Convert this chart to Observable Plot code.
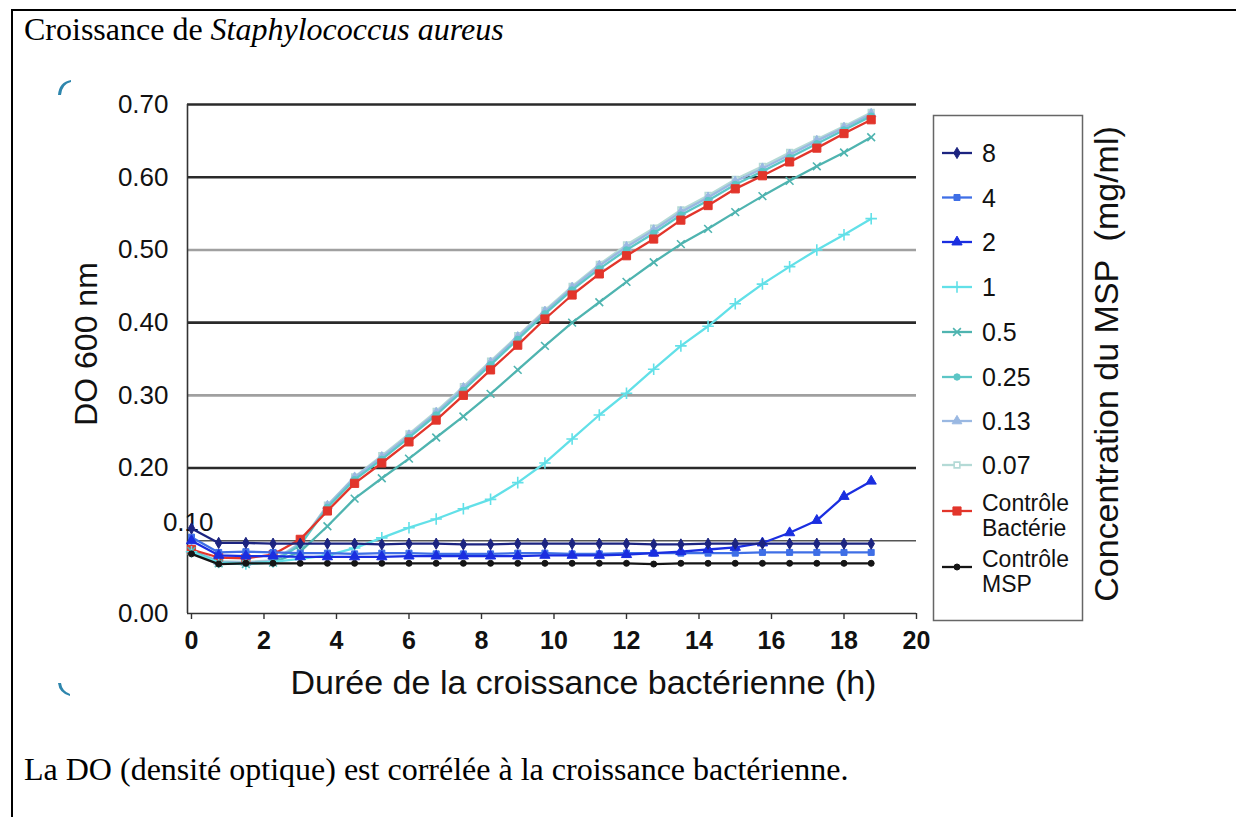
<!DOCTYPE html>
<html>
<head>
<meta charset="utf-8">
<script src="https://cdn.jsdelivr.net/npm/d3@7"></script>
<script src="https://cdn.jsdelivr.net/npm/@observablehq/plot@0.6"></script>
<style>
  html, body { margin: 0; padding: 0; background: #fff; }
  #page { position: relative; width: 1236px; height: 817px; overflow: hidden; background: #fff; }
  #page > * { position: absolute; }
  .serif { font-family: "Liberation Serif", "Times New Roman", serif; color: #000; white-space: nowrap; }
</style>
</head>
<body>
<div id="page">
  <div id="frameTop" style="left:12px; top:9px; width:1224px; height:2px; background:#000;"></div>
  <div id="frameLeft" style="left:11px; top:9px; width:2px; height:808px; background:#000;"></div>
  <div id="title" class="serif" style="left:24px; top:11px; font-size:32px;">Croissance de <i>Staphylococcus aureus</i></div>
  <div id="chart" style="left:0; top:0;"></div>
  <svg id="legend" width="1236" height="817" style="left:0; top:0; pointer-events:none;"></svg>
  <div id="caption" class="serif" style="left:24px; top:751px; font-size:32px;">La DO (densité optique) est corrélée à la croissance bactérienne.</div>
</div>
<script>
// ---- Data ----
const times = [0, 0.75, 1.5, 2.25, 3, 3.75, 4.5, 5.25, 6, 6.75, 7.5, 8.25, 9, 9.75, 10.5, 11.25, 12, 12.75, 13.5, 14.25, 15, 15.75, 16.5, 17.25, 18, 18.75];

const c8    = [0.117,0.097,0.097,0.096,0.096,0.096,0.096,0.095,0.096,0.096,0.095,0.095,0.096,0.096,0.096,0.096,0.096,0.095,0.095,0.096,0.096,0.096,0.096,0.096,0.096,0.096];
const c4    = [0.105,0.084,0.085,0.084,0.083,0.083,0.082,0.083,0.083,0.082,0.082,0.082,0.083,0.083,0.082,0.082,0.083,0.083,0.083,0.083,0.083,0.084,0.084,0.084,0.084,0.084];
const c2    = [0.100,0.080,0.079,0.079,0.078,0.078,0.078,0.078,0.079,0.079,0.079,0.079,0.079,0.080,0.080,0.080,0.081,0.083,0.085,0.088,0.091,0.097,0.111,0.128,0.161,0.182];
const c1    = [0.085,0.070,0.068,0.071,0.075,0.080,0.090,0.104,0.118,0.130,0.144,0.157,0.180,0.207,0.240,0.273,0.303,0.336,0.368,0.395,0.426,0.453,0.477,0.500,0.521,0.543];
const c05   = [0.086,0.069,0.068,0.070,0.085,0.120,0.158,0.186,0.213,0.242,0.271,0.302,0.335,0.368,0.400,0.428,0.456,0.483,0.508,0.529,0.552,0.574,0.595,0.615,0.634,0.655];
const c025  = [0.086,0.070,0.069,0.071,0.094,0.146,0.184,0.212,0.242,0.273,0.307,0.342,0.377,0.412,0.445,0.474,0.500,0.523,0.548,0.568,0.590,0.608,0.627,0.646,0.665,0.684];
const c013  = [0.088,0.071,0.070,0.072,0.096,0.148,0.187,0.215,0.245,0.276,0.310,0.345,0.380,0.415,0.448,0.478,0.504,0.527,0.552,0.572,0.594,0.612,0.631,0.650,0.668,0.687];
const c007  = [0.087,0.072,0.071,0.073,0.097,0.149,0.188,0.217,0.247,0.278,0.312,0.347,0.382,0.417,0.450,0.480,0.507,0.530,0.555,0.575,0.597,0.615,0.634,0.652,0.670,0.689];
const ctrlBact = [0.088,0.077,0.076,0.081,0.102,0.141,0.179,0.207,0.236,0.266,0.300,0.335,0.369,0.405,0.438,0.467,0.492,0.515,0.541,0.561,0.584,0.602,0.621,0.640,0.660,0.679];
const ctrlMSP  = [0.082,0.068,0.069,0.069,0.069,0.069,0.069,0.069,0.069,0.069,0.069,0.069,0.069,0.069,0.069,0.069,0.069,0.068,0.069,0.069,0.069,0.069,0.069,0.069,0.069,0.069];

const xTicks = [0, 2, 4, 6, 8, 10, 12, 14, 16, 18, 20];
const yTicks = [0.00, 0.20, 0.30, 0.40, 0.50, 0.60, 0.70];
const yOddTick = [0.10];
const gridDark = [0.20, 0.40, 0.60, 0.70];
const gridLight = [0.30, 0.50];
const gridThin = [0.10];

const yTitle = "DO 600 nm";
const xTitle = "Durée de la croissance bactérienne (h)";
const legendTitle = "Concentration du MSP  (mg/ml)";

// ---- Series styles (legend order) ----
const series = [
  {name: "8",    lines: ["8"],                   values: c8,       color: "#1c2480", symbol: "diamond",  r: 3.4, fill: true},
  {name: "4",    lines: ["4"],                   values: c4,       color: "#3f6fe6", symbol: "square",   r: 3.4, fill: true},
  {name: "2",    lines: ["2"],                   values: c2,       color: "#1a2ee0", symbol: "triangle", r: 3.8, fill: true},
  {name: "1",    lines: ["1"],                   values: c1,       color: "#62e0e8", symbol: "plus",     r: 3.8, fill: false},
  {name: "0.5",  lines: ["0.5"],                 values: c05,      color: "#4fb4b0", symbol: "times",    r: 3.6, fill: false},
  {name: "0.25", lines: ["0.25"],                values: c025,     color: "#5cc6c6", symbol: "circle",   r: 3.2, fill: true},
  {name: "0.13", lines: ["0.13"],                values: c013,     color: "#9ab8e2", symbol: "triangle", r: 3.6, fill: true},
  {name: "0.07", lines: ["0.07"],                values: c007,     color: "#b4dad6", symbol: "square",   r: 3.2, fill: false},
  {name: "Contrôle Bactérie", lines: ["Contrôle", "Bactérie"], values: ctrlBact, color: "#e2352b", symbol: "square", r: 4.6, fill: true},
  {name: "Contrôle MSP",      lines: ["Contrôle", "MSP"],      values: ctrlMSP,  color: "#151515", symbol: "circle", r: 3.0, fill: true}
];

const rows = s => times.map((t, i) => ({t, v: s.values[i], s: s.name}));
const drawOrder = ["0.07", "0.13", "0.25", "Contrôle Bactérie", "0.5", "1", "Contrôle MSP", "4", "2", "8"];

const sans = "'Liberation Sans', Arial, Helvetica, sans-serif";
const narrow = "'Liberation Sans Narrow', 'Arial Narrow', 'Liberation Sans', sans-serif";

const seriesMarks = drawOrder.flatMap(n => {
  const s = series.find(d => d.name === n);
  const data = rows(s);
  return [
    Plot.line(data, {x: "t", y: "v", stroke: s.color, strokeWidth: 2.3}),
    Plot.dot(data, {x: "t", y: "v", symbol: () => s.symbol, r: s.r,
      stroke: s.color, strokeWidth: s.fill ? 1 : 1.6,
      fill: s.fill ? s.color : (s.symbol === "square" ? "#fff" : "none")})
  ];
});

const chart = Plot.plot({
  width: 940,
  height: 713,
  marginLeft: 187,
  marginRight: 24,
  marginTop: 104,
  marginBottom: 100,
  x: {domain: [-0.11, 20], axis: null},
  y: {domain: [0, 0.7], axis: null},
  symbol: {type: "identity"},
  style: {fontFamily: sans, background: "transparent", overflow: "visible"},
  marks: [
    Plot.ruleY(gridLight, {y: d => d, stroke: "#a0a0a0", strokeWidth: 2.6}),
    Plot.ruleY(gridDark, {y: d => d, stroke: "#2a2a2a", strokeWidth: 2.6}),
    Plot.ruleY(gridThin, {y: d => d, stroke: "#555", strokeWidth: 1.6}),
    Plot.ruleX([-0.11], {x: d => d, stroke: "#333", strokeWidth: 1.6}),
    Plot.ruleY([0], {y: d => d, stroke: "#333", strokeWidth: 1.6}),
    Plot.ruleX(xTicks, {x: d => d, y1: 0, y2: 0, insetBottom: -6, stroke: "#333", strokeWidth: 1.4}),
    Plot.text(xTicks, {x: d => d, y: 0, text: d => String(d), dy: 27, fontSize: 25, fontWeight: "bold", fontFamily: narrow, fill: "#111"}),
    Plot.text(yTicks, {x: -0.11, y: d => d, text: d => d.toFixed(2), textAnchor: "end", dx: -19, fontSize: 26, fill: "#111"}),
    Plot.text(yOddTick, {x: -0.11, y: d => d, text: d => d.toFixed(2), textAnchor: "end", dx: 26, dy: -18, fontSize: 26, fill: "#111"}),
    Plot.text([yTitle], {frameAnchor: "left", textAnchor: "middle", lineAnchor: "middle", rotate: -90, dx: -101, dy: -15, fontSize: 32, fill: "#111"}),
    Plot.text([xTitle], {frameAnchor: "bottom", textAnchor: "middle", lineAnchor: "middle", dx: 31.5, dy: 70, fontSize: 34, fill: "#111"}),
    ...seriesMarks
  ]
});
document.getElementById("chart").appendChild(chart);

// ---- Legend (separate SVG, built with d3) ----
const symMap = {diamond: d3.symbolDiamond, square: d3.symbolSquare, triangle: d3.symbolTriangle,
  plus: d3.symbolPlus, times: d3.symbolTimes, circle: d3.symbolCircle};
const lg = d3.select("#legend");
lg.append("rect").attr("x", 933.5).attr("y", 115.5).attr("width", 149).attr("height", 505)
  .attr("fill", "#fff").attr("stroke", "#666").attr("stroke-width", 1.5);
const entryPos = [153, 197.5, 242, 287, 332, 377, 421, 465, 516, 572];
series.forEach((s, i) => {
  const cy = entryPos[i];
  const lineY = s.lines.length > 1 ? cy - 5 : cy;
  lg.append("line").attr("x1", 942).attr("x2", 972).attr("y1", lineY).attr("y2", lineY)
    .attr("stroke", s.color).attr("stroke-width", 2.3);
  lg.append("path").attr("transform", `translate(957,${lineY})`)
    .attr("d", d3.symbol().type(symMap[s.symbol]).size(Math.PI * s.r * s.r)())
    .attr("fill", s.fill ? s.color : (s.symbol === "square" ? "#fff" : "none"))
    .attr("stroke", s.color).attr("stroke-width", s.fill ? 1 : 1.6);
  const fs = s.lines.length > 1 ? 23 : 25;
  s.lines.forEach((ln, j) => {
    const ty = s.lines.length > 1 ? cy - 13 + j * 25 : cy;
    lg.append("text").attr("x", 982).attr("y", ty).attr("dy", "0.36em")
      .attr("font-family", sans).attr("font-size", fs).attr("fill", "#111").text(ln);
  });
});
lg.append("text").attr("transform", "translate(1106,364) rotate(-90)")
  .attr("text-anchor", "middle").attr("dy", "0.36em").attr("xml:space", "preserve")
  .style("white-space", "pre")
  .attr("font-family", sans).attr("font-size", 34).attr("fill", "#111").text(legendTitle);

// decorative corner marks of the original image
lg.append("path").attr("d", "M58,95 Q59,82 71,80 L71,82 Q62,84 61,95 Z").attr("fill", "#2e86ad");
lg.append("path").attr("d", "M58,683 Q59,693 70,696 L70,694 Q62,691 61,683 Z").attr("fill", "#2e86ad");
</script>
</body>
</html>
